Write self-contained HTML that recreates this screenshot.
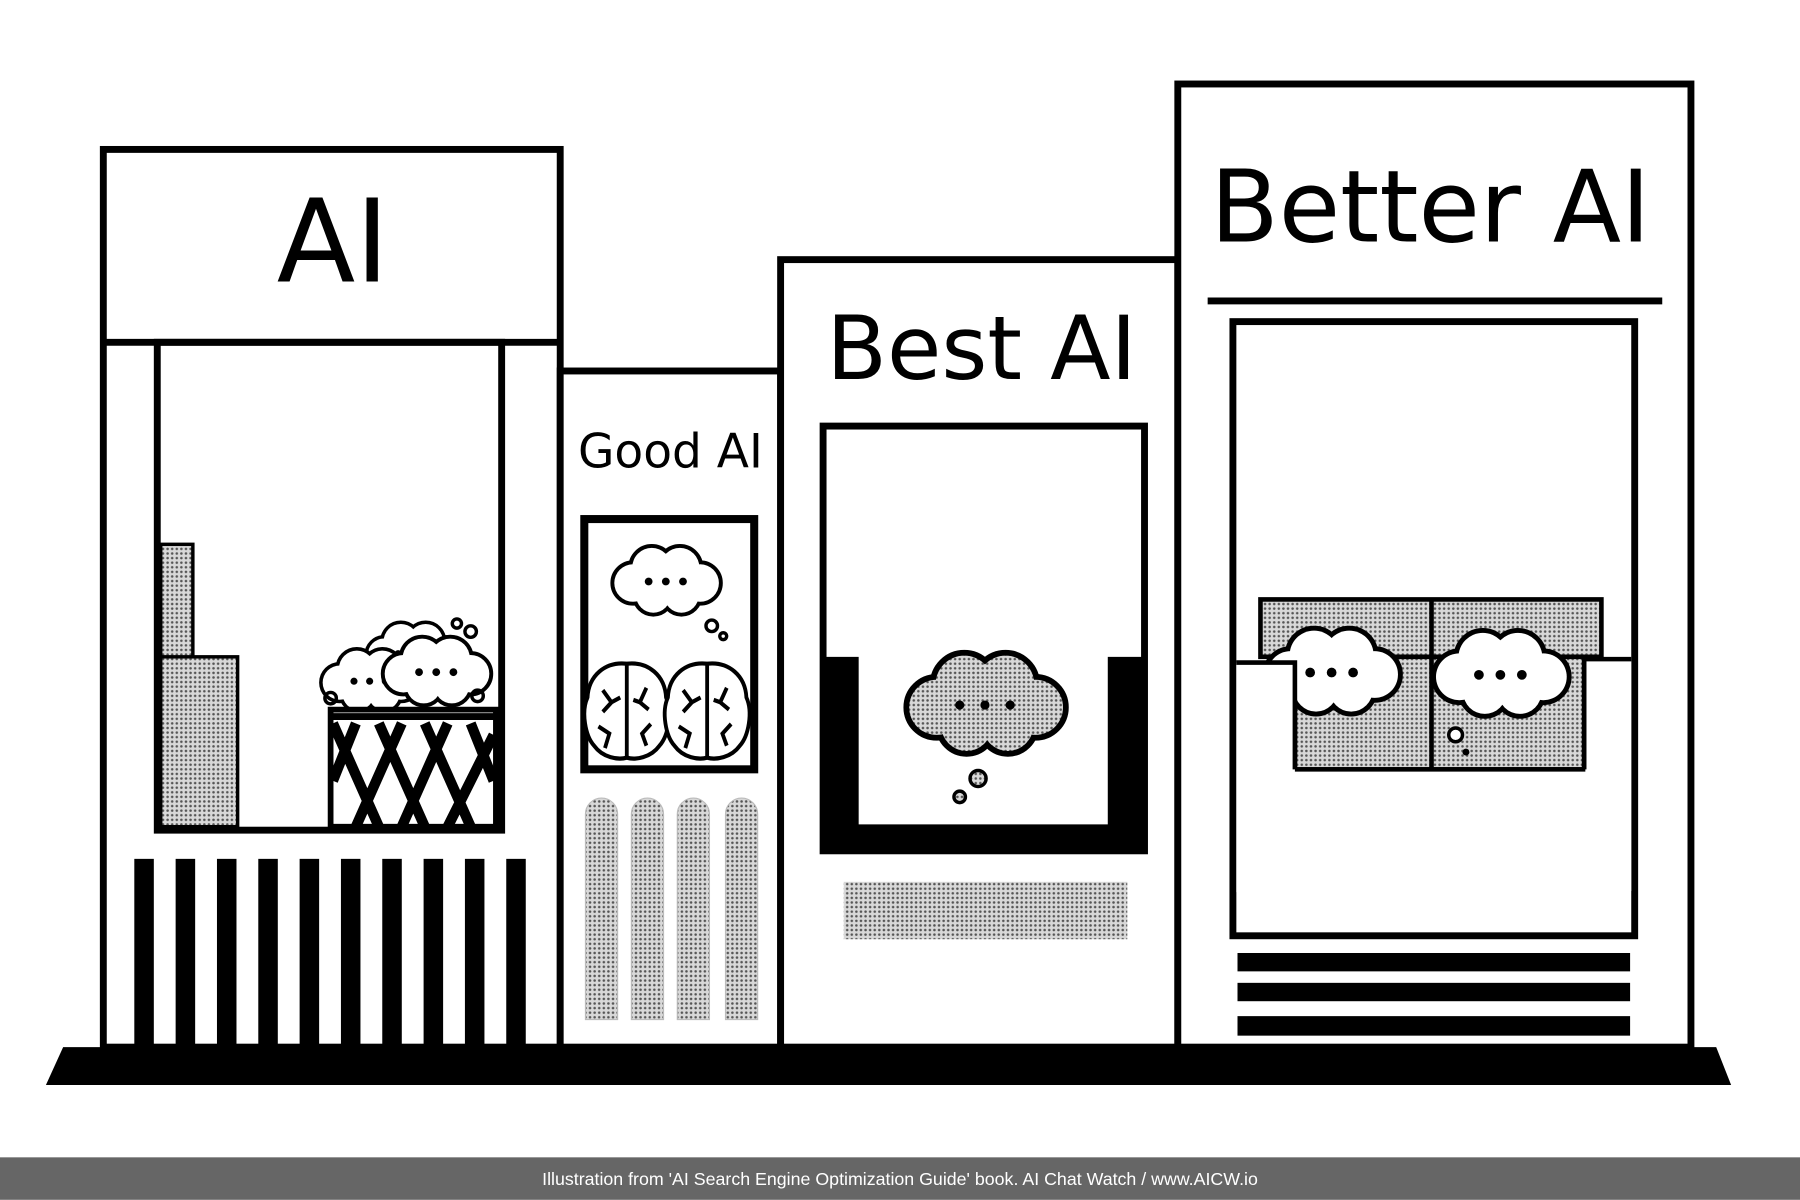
<!DOCTYPE html>
<html><head><meta charset="utf-8"><style>
html,body{margin:0;padding:0;background:#fff;width:1800px;height:1200px;overflow:hidden}
svg{display:block}
</style></head><body>
<svg width="1800" height="1200" viewBox="0 0 1568 1045" xmlns="http://www.w3.org/2000/svg">
<defs>
<pattern id="dots" width="4" height="4" patternUnits="userSpaceOnUse">
<rect width="4" height="4" fill="#d8d8d8"/><circle cx="2" cy="2" r="1.1" fill="#555"/>
</pattern>
<g id="cloudS">
<circle cx="-42" cy="4" r="24"/><circle cx="-18" cy="-16" r="25"/><circle cx="18" cy="-16" r="25"/>
<circle cx="44" cy="4" r="24"/><circle cx="20" cy="20" r="22"/><circle cx="-16" cy="20" r="22"/><circle cx="0" cy="2" r="30"/>
</g>
<g id="cloudW"><g fill="#000"><use href="#cloudS" stroke="#000" stroke-width="10"/></g><g fill="#fff"><use href="#cloudS"/></g>
<circle cx="-22" cy="2" r="5" fill="#000"/><circle cx="0" cy="2" r="5" fill="#000"/><circle cx="22" cy="2" r="5" fill="#000"/></g>
<g id="cloudG"><g fill="#000"><use href="#cloudS" stroke="#000" stroke-width="10"/></g><g fill="url(#dots)"><use href="#cloudS"/></g>
<circle cx="-22" cy="2" r="4" fill="#000"/><circle cx="0" cy="2" r="4" fill="#000"/><circle cx="22" cy="2" r="4" fill="#000"/></g>
<g id="brain" fill="#fff" stroke="#000" stroke-width="3.5">
<path d="M0,-40 C-20,-42 -35,-30 -36,-12 C-42,0 -38,20 -30,28 C-22,38 -8,40 0,38 C8,40 22,38 30,28 C38,20 42,0 36,-12 C35,-30 20,-42 0,-40Z"/>
<path d="M0,-40 V38 M-22,-18 l8,10 l-8,8 M-14,-8 l8,-4 M-26,12 l10,6 l-4,12 M18,-20 l-6,12 l8,6 M12,-8 l-6,-2 M22,10 l-8,8 l4,10" fill="none"/>
</g>
<clipPath id="bk"><rect x="290" y="626" width="140" height="92"/></clipPath>
</defs>
<rect width="1568" height="1045" fill="#fff"/>
<polygon points="55,912 1495,912 1508,945 40,945" fill="#000"/>
<g fill="none" stroke="#000" stroke-width="6">
<rect x="90" y="130" width="398" height="782" fill="#fff"/>
<line x1="90" y1="298" x2="488" y2="298"/>
<rect x="137" y="298" width="300" height="425"/>
<rect x="488" y="323" width="192" height="589" fill="#fff"/>
<rect x="509" y="452" width="148" height="218" stroke-width="7"/>
<rect x="680" y="226" width="346" height="686" fill="#fff"/>
<rect x="717" y="371" width="280" height="370"/>
<rect x="1026" y="73" width="447" height="839" fill="#fff"/>
<rect x="1074" y="280" width="350" height="535"/>
</g>
<g font-family="'DejaVu Sans','Liberation Sans',sans-serif" fill="#000" text-anchor="middle">
<text x="290" y="245" font-size="100">AI</text>
<text x="584" y="407" font-size="41">Good AI</text>
<text x="855" y="330" font-size="77">Best AI</text>
<text x="1246" y="210" font-size="87">Better AI</text>
</g>
<rect x="140" y="474" width="28" height="100" fill="url(#dots)" stroke="#000" stroke-width="3"/>
<rect x="140" y="572" width="67" height="148" fill="url(#dots)" stroke="#000" stroke-width="3"/>
<g transform="translate(360,568) scale(0.6)"><use href="#cloudW"/></g>
<g transform="translate(322,592) scale(0.62)"><use href="#cloudW"/></g>
<g transform="translate(380,584) scale(0.68)"><use href="#cloudW"/></g>
<circle cx="398" cy="543" r="4" fill="none" stroke="#000" stroke-width="3"/><circle cx="410" cy="550" r="5" fill="none" stroke="#000" stroke-width="3"/>
<circle cx="288" cy="608" r="5" fill="none" stroke="#000" stroke-width="3"/><circle cx="416" cy="606" r="5" fill="none" stroke="#000" stroke-width="3"/>
<rect x="288" y="618" width="144" height="102" fill="#fff" stroke="#000" stroke-width="5"/>
<g stroke="#000" stroke-width="9" clip-path="url(#bk)">
<path d="M290,630 L330,720 M310,630 L290,680 M330,630 L370,720 M350,630 L310,720 M370,630 L410,720 M390,630 L350,720 M410,630 L430,680 M430,640 L390,720" />
</g>
<line x1="288" y1="624" x2="432" y2="624" stroke="#000" stroke-width="6"/>
<g fill="#000">
<rect x="117" y="748" width="17" height="164"/><rect x="153" y="748" width="17" height="164"/><rect x="189" y="748" width="17" height="164"/><rect x="225" y="748" width="17" height="164"/><rect x="261" y="748" width="17" height="164"/><rect x="297" y="748" width="17" height="164"/><rect x="333" y="748" width="17" height="164"/><rect x="369" y="748" width="17" height="164"/><rect x="405" y="748" width="17" height="164"/><rect x="441" y="748" width="17" height="164"/>
</g>
<g transform="translate(580,505) scale(0.68)"><use href="#cloudW"/></g>
<circle cx="620" cy="545" r="5" fill="none" stroke="#000" stroke-width="3"/><circle cx="630" cy="554" r="3" fill="none" stroke="#000" stroke-width="3"/>
<g transform="translate(546,620) scale(0.95,1.05)"><use href="#brain"/></g>
<g transform="translate(616,620) scale(0.95,1.05)"><use href="#brain"/></g>
<g fill="url(#dots)" stroke="#bbb" stroke-width="1">
<path d="M510,888 V709 a14,14 0 0 1 28,0 V888Z"/><path d="M550,888 V709 a14,14 0 0 1 28,0 V888Z"/><path d="M590,888 V709 a14,14 0 0 1 28,0 V888Z"/><path d="M632,888 V709 a14,14 0 0 1 28,0 V888Z"/>
</g>
<path d="M717,572 H748 V718 H965 V572 H997 V741 H717Z" fill="#000"/>
<g transform="translate(858,612) scale(1.0)"><use href="#cloudG"/></g>
<circle cx="852" cy="678" r="7" fill="url(#dots)" stroke="#000" stroke-width="3"/><circle cx="836" cy="694" r="5" fill="url(#dots)" stroke="#000" stroke-width="3"/>
<rect x="735" y="768" width="247" height="50" fill="url(#dots)"/>
<line x1="1052" y1="262" x2="1448" y2="262" stroke="#000" stroke-width="6"/>
<rect x="1098" y="522" width="297" height="50" fill="url(#dots)" stroke="#000" stroke-width="4"/>
<rect x="1128" y="572" width="252" height="98" fill="url(#dots)" stroke="#000" stroke-width="4"/>
<line x1="1247" y1="522" x2="1247" y2="670" stroke="#000" stroke-width="4"/>
<g transform="translate(1160,584) scale(0.85)"><use href="#cloudW"/></g>
<g transform="translate(1307,586) scale(0.85)"><use href="#cloudW"/></g>
<rect x="1077" y="577" width="51" height="200" fill="#fff"/>
<path d="M1077,577 H1128 V670" fill="none" stroke="#000" stroke-width="4"/>
<rect x="1381" y="576" width="40" height="200" fill="#fff"/>
<path d="M1421,574 H1380 V670" fill="none" stroke="#000" stroke-width="4"/>
<circle cx="1268" cy="640" r="6" fill="#fff" stroke="#000" stroke-width="3"/><circle cx="1277" cy="655" r="3" fill="#000"/>
<g fill="#000"><rect x="1078" y="830" width="342" height="16"/><rect x="1078" y="856" width="342" height="16"/><rect x="1078" y="885" width="342" height="17"/></g>
<rect x="0" y="1008" width="1568" height="37" fill="#666"/>
<text x="784" y="1032" font-family="'Liberation Sans',sans-serif" font-size="15.5" fill="#fff" text-anchor="middle">Illustration from 'AI Search Engine Optimization Guide' book. AI Chat Watch / www.AICW.io</text>
</svg>
</body></html>
